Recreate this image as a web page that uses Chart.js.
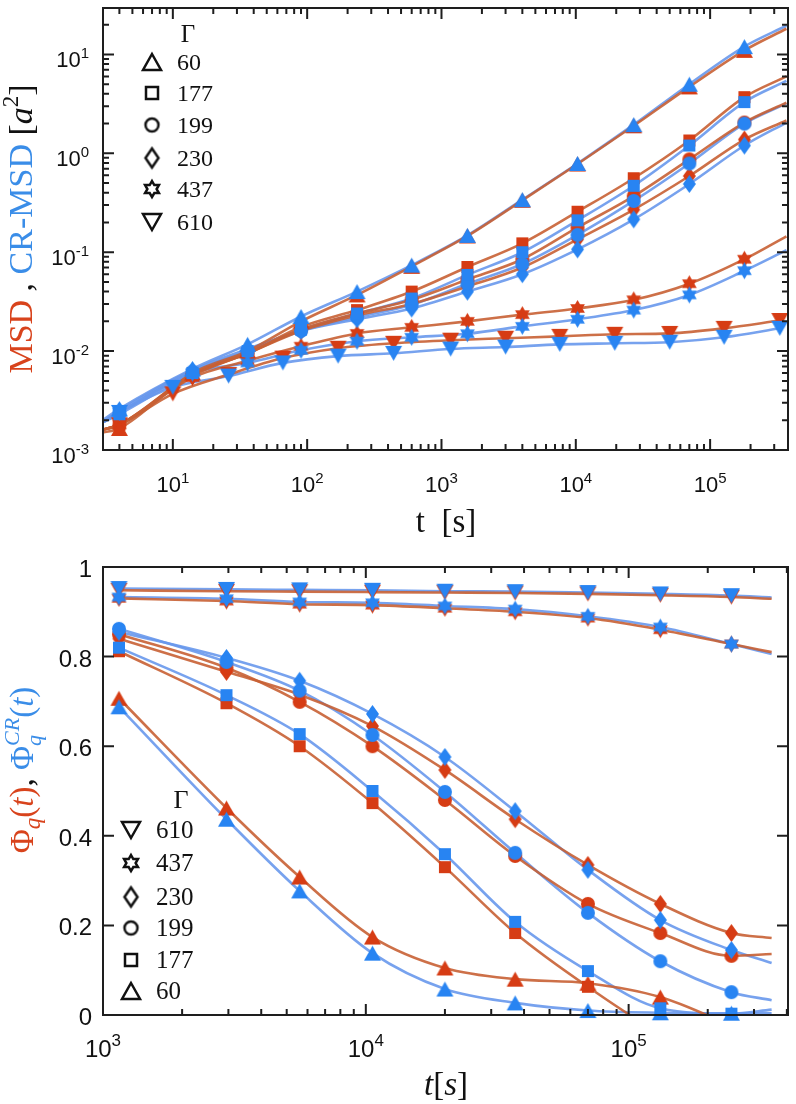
<!DOCTYPE html>
<html>
<head>
<meta charset="utf-8">
<script src="https://cdn.jsdelivr.net/npm/chart.js@4.4.0/dist/chart.umd.min.js"></script>
<style>
  body { margin: 0; background: #fff; }
  #wrap { position: relative; width: 796px; height: 1104px; }
  canvas { position: absolute; left: 0; }
  #msdChart { top: 0; }
  #phiChart { top: 552px; }
</style>
</head>
<body>
<div id="wrap">
  <canvas id="msdChart" width="796" height="552"></canvas>
  <canvas id="phiChart" width="796" height="552"></canvas>
</div>
<script>
// ---------- data ----------
const gammas = ['60', '177', '199', '230', '437', '610'];
const shapes = ['triangle', 'square', 'circle', 'diamond', 'star', 'triangleDown'];

// top panel: MSD (red) and CR-MSD (blue); first/last times are line ends only
const tMsd = [3, 4, 14, 36, 90, 235, 600, 1560, 4000, 10300, 27000, 70000, 180000, 370000];
const tMsd610 = [3, 4, 10, 26, 66, 170, 440, 1170, 3000, 7600, 19500, 50000, 127000, 330000];

const msd60 = [1.5e-3, 1.65e-3, 6.0e-3, 0.0100, 0.0200, 0.037, 0.072, 0.146, 0.335, 0.78, 1.9, 4.7, 11.0, 18.2];
const cr60 = [2.0e-3, 2.6e-3, 6.6e-3, 0.0117, 0.0224, 0.040, 0.074, 0.148, 0.34, 0.79, 1.95, 5.0, 12.0, 19.5];
const msd177 = [1.6e-3, 1.8e-3, 5.8e-3, 0.0095, 0.0175, 0.026, 0.040, 0.071, 0.123, 0.257, 0.56, 1.35, 3.7, 6.0];
const cr177 = [1.9e-3, 2.3e-3, 6.0e-3, 0.0100, 0.0165, 0.024, 0.034, 0.059, 0.100, 0.21, 0.47, 1.2, 3.3, 5.4];
const msd199 = [1.6e-3, 1.8e-3, 5.8e-3, 0.0095, 0.0165, 0.024, 0.033, 0.053, 0.085, 0.178, 0.37, 0.87, 2.05, 3.25];
const cr199 = [1.9e-3, 2.4e-3, 6.2e-3, 0.0100, 0.0160, 0.022, 0.0295, 0.048, 0.076, 0.150, 0.33, 0.79, 2.0, 3.2];
const msd230 = [1.6e-3, 1.8e-3, 5.6e-3, 0.0095, 0.0160, 0.023, 0.030, 0.045, 0.070, 0.135, 0.27, 0.59, 1.38, 2.15];
const cr230 = [1.9e-3, 2.5e-3, 6.4e-3, 0.0105, 0.0160, 0.021, 0.027, 0.040, 0.060, 0.107, 0.215, 0.49, 1.2, 2.05];
const msd437 = [1.6e-3, 1.8e-3, 5.4e-3, 0.0080, 0.0112, 0.0151, 0.0174, 0.020, 0.0234, 0.027, 0.033, 0.048, 0.085, 0.145];
const cr437 = [1.9e-3, 2.4e-3, 6.0e-3, 0.0076, 0.0102, 0.0126, 0.0138, 0.015, 0.0178, 0.021, 0.026, 0.037, 0.065, 0.105];
const msd610 = [1.6e-3, 1.8e-3, 3.7e-3, 5.8e-3, 0.0085, 0.0107, 0.0120, 0.0129, 0.0135, 0.0141, 0.0148, 0.0151, 0.0170, 0.0204];
const cr610 = [1.9e-3, 2.4e-3, 4.3e-3, 5.6e-3, 0.0076, 0.0089, 0.0095, 0.0105, 0.0110, 0.0117, 0.0120, 0.0123, 0.0138, 0.0170];

// bottom panel: Phi_q (red) and Phi_q^CR (blue); last time is line end only
const tPhi = [1150, 2950, 5600, 10600, 20000, 37000, 70000, 132000, 246000, 350000];

const phi60 = [0.707, 0.462, 0.308, 0.174, 0.105, 0.080, 0.071, 0.040, -0.025, -0.07];
const phiCr60 = [0.688, 0.437, 0.277, 0.138, 0.058, 0.027, 0.010, 0.005, 0.004, 0.004];
const phi177 = [0.812, 0.696, 0.600, 0.473, 0.330, 0.183, 0.063, -0.04, -0.10, -0.13];
const phiCr177 = [0.820, 0.714, 0.627, 0.500, 0.359, 0.208, 0.098, 0.015, 0.003, 0.012];
const phi199 = [0.850, 0.775, 0.699, 0.600, 0.480, 0.355, 0.248, 0.183, 0.132, 0.136];
const phiCr199 = [0.862, 0.788, 0.724, 0.625, 0.498, 0.362, 0.228, 0.120, 0.051, 0.033];
const phi230 = [0.840, 0.766, 0.715, 0.645, 0.547, 0.437, 0.335, 0.248, 0.183, 0.172];
const phiCr230 = [0.855, 0.797, 0.746, 0.672, 0.576, 0.455, 0.324, 0.212, 0.145, 0.116];
const phi437 = [0.930, 0.924, 0.917, 0.915, 0.908, 0.900, 0.886, 0.860, 0.828, 0.810];
const phiCr437 = [0.933, 0.929, 0.922, 0.920, 0.913, 0.906, 0.890, 0.866, 0.828, 0.806];
const phi610 = [0.948, 0.946, 0.945, 0.944, 0.943, 0.942, 0.940, 0.937, 0.933, 0.929];
const phiCr610 = [0.952, 0.950, 0.949, 0.948, 0.946, 0.945, 0.943, 0.940, 0.936, 0.932];

// tick labels
const msdXTickExp = [1, 2, 3, 4, 5];
const msdYTickExp = [-3, -2, -1, 0, 1];
const phiXTickExp = [3, 4, 5];
const phiYTicks = [0, 0.2, 0.4, 0.6, 0.8, 1];
const phiYLabels = ['0', '0.2', '0.4', '0.6', '0.8', '1'];

// ---------- styles ----------
const RED_LINE = 'rgba(200, 96, 52, 0.9)';
const BLUE_LINE = 'rgba(104, 152, 236, 0.9)';
const RED_MARK = '#d63c14';
const BLUE_MARK = '#2884f2';
const RED_TXT = '#d8431c';
const BLUE_TXT = '#3a8de8';
const SANS = "'Liberation Sans', Arial, sans-serif";
const SERIF = "'Liberation Serif', 'DejaVu Serif', serif";

const markSize = {
  triangle: [17, 15], triangleDown: [17, 15], square: [12, 12],
  circle: [14, 14], diamond: [13, 18], star: [17, 17]
};
const legendSize = {
  triangle: [18, 16], triangleDown: [18, 16], square: [12, 12],
  circle: [13, 13], diamond: [13, 19], star: [16, 16]
};

function shapePath(g, shape, w, h) {
  g.beginPath();
  if (shape === 'triangle') {
    g.moveTo(0, -h / 2); g.lineTo(w / 2, h / 2); g.lineTo(-w / 2, h / 2);
  } else if (shape === 'triangleDown') {
    g.moveTo(0, h / 2); g.lineTo(w / 2, -h / 2); g.lineTo(-w / 2, -h / 2);
  } else if (shape === 'square') {
    g.rect(-w / 2, -h / 2, w, h);
  } else if (shape === 'circle') {
    g.arc(0, 0, w / 2, 0, 2 * Math.PI);
  } else if (shape === 'diamond') {
    g.moveTo(0, -h / 2); g.lineTo(w / 2, 0); g.lineTo(0, h / 2); g.lineTo(-w / 2, 0);
  } else if (shape === 'star') {
    const R = w / 2;
    for (let k = 0; k < 12; k++) {
      const a = -Math.PI / 2 + k * Math.PI / 6;
      const r = k % 2 === 0 ? R : R / Math.sqrt(3);
      g.lineTo(r * Math.cos(a), r * Math.sin(a));
    }
  }
  g.closePath();
}

function makeMarker(shape, color, filled) {
  const [w, h] = (filled ? markSize : legendSize)[shape];
  const c = document.createElement('canvas');
  c.width = w + 6; c.height = h + 6;
  const g = c.getContext('2d');
  g.translate(c.width / 2, c.height / 2);
  shapePath(g, shape, w, h);
  if (filled) { g.fillStyle = color; g.fill(); }
  else { g.lineWidth = 2.5; g.strokeStyle = color; g.lineJoin = 'miter'; g.stroke(); }
  return c;
}

const pts = (ts, ys) => ts.map((t, i) => ({ x: t, y: ys[i] }));

function buildSets(series) {
  const sets = [];
  series.forEach(s => {
    sets.push({ data: pts(s.t, s.blue), borderColor: BLUE_LINE, order: 4 });
    sets.push({ data: pts(s.t, s.red), borderColor: RED_LINE, order: 3 });
  });
  sets.forEach(d => Object.assign(d, {
    showLine: true, borderWidth: 2.6, pointRadius: 0, fill: false,
    cubicInterpolationMode: 'monotone'
  }));
  series.forEach(s => {
    const redMk = makeMarker(s.shape, RED_MARK, true);
    const blueMk = makeMarker(s.shape, BLUE_MARK, true);
    sets.push({ data: pts(s.t, s.red).slice(s.from, s.to), pointStyle: redMk,
      pointRadius: 7, showLine: false, clip: false, order: 2 });
    sets.push({ data: pts(s.t, s.blue).slice(s.from, s.to), pointStyle: blueMk,
      pointRadius: 7, showLine: false, clip: false, order: 1 });
  });
  return sets;
}

const msdSeries = [
  { shape: 'triangle', t: tMsd, red: msd60, blue: cr60, from: 1, to: 13 },
  { shape: 'square', t: tMsd, red: msd177, blue: cr177, from: 1, to: 13 },
  { shape: 'circle', t: tMsd, red: msd199, blue: cr199, from: 1, to: 13 },
  { shape: 'diamond', t: tMsd, red: msd230, blue: cr230, from: 1, to: 13 },
  { shape: 'star', t: tMsd, red: msd437, blue: cr437, from: 1, to: 13 },
  { shape: 'triangleDown', t: tMsd610, red: msd610, blue: cr610, from: 1, to: 14 }
];
const phiSeries = [
  { shape: 'triangle', t: tPhi, red: phi60, blue: phiCr60, from: 0, to: 9 },
  { shape: 'square', t: tPhi, red: phi177, blue: phiCr177, from: 0, to: 9 },
  { shape: 'circle', t: tPhi, red: phi199, blue: phiCr199, from: 0, to: 9 },
  { shape: 'diamond', t: tPhi, red: phi230, blue: phiCr230, from: 0, to: 9 },
  { shape: 'star', t: tPhi, red: phi437, blue: phiCr437, from: 0, to: 9 },
  { shape: 'triangleDown', t: tPhi, red: phi610, blue: phiCr610, from: 0, to: 9 }
];

// ---------- drawing helpers ----------
function drawRich(ctx, segs, x, y, align, rotate) {
  ctx.save();
  ctx.translate(x, y);
  if (rotate) ctx.rotate(-Math.PI / 2);
  ctx.textBaseline = 'alphabetic';
  ctx.textAlign = 'left';
  const widthOf = s => {
    if (s.stack) return Math.max(...s.stack.map(widthOf));
    ctx.font = s.font; return ctx.measureText(s.text).width;
  };
  const total = segs.reduce((w, s) => w + widthOf(s), 0);
  let cx = align === 'center' ? -total / 2 : align === 'right' ? -total : 0;
  const put = s => { ctx.font = s.font; ctx.fillStyle = s.color || '#111'; ctx.fillText(s.text, cx, s.dy || 0); };
  segs.forEach(s => {
    const w = widthOf(s);
    if (s.stack) s.stack.forEach(put); else put(s);
    cx += w;
  });
  ctx.restore();
}

const pow10 = (n, base, sup, dy) => [
  { text: '10', font: `${base}px ${SANS}` },
  { text: String(n), font: `${sup}px ${SANS}`, dy: dy }
];

function logTicks(min, max) {
  const out = [];
  for (let d = Math.floor(Math.log10(min)); d <= Math.ceil(Math.log10(max)); d++) {
    for (let k = 1; k < 10; k++) {
      const v = k * Math.pow(10, d);
      if (v >= min * (1 - 1e-9) && v <= max * (1 + 1e-9)) out.push({ v, major: k === 1 });
    }
  }
  return out;
}

function drawFrame(chart, xTicks, yTicks) {
  const { ctx, chartArea: a } = chart;
  const sx = chart.scales.x, sy = chart.scales.y;
  ctx.save();
  ctx.strokeStyle = '#1e1e1e';
  ctx.lineWidth = 2;
  ctx.beginPath();
  xTicks.forEach(t => {
    const p = sx.getPixelForValue(t.v), L = t.major ? 11 : 6;
    ctx.moveTo(p, a.bottom); ctx.lineTo(p, a.bottom - L);
    ctx.moveTo(p, a.top); ctx.lineTo(p, a.top + L);
  });
  yTicks.forEach(t => {
    const p = sy.getPixelForValue(t.v), L = t.major ? 11 : 6;
    ctx.moveTo(a.left, p); ctx.lineTo(a.left + L, p);
    ctx.moveTo(a.right, p); ctx.lineTo(a.right - L, p);
  });
  ctx.stroke();
  ctx.strokeRect(a.left, a.top, a.right - a.left, a.bottom - a.top);
  ctx.restore();
}

function drawLegend(ctx, order, gx, gy, mx, tx, rows, size) {
  ctx.save();
  ctx.fillStyle = '#111';
  ctx.font = `${size + 1}px ${SERIF}`;
  ctx.textAlign = 'center';
  ctx.fillText('\u0393', gx, gy);
  ctx.textAlign = 'left';
  ctx.font = `${size}px ${SERIF}`;
  order.forEach((i, r) => {
    const mk = makeMarker(shapes[i], '#111', false);
    ctx.drawImage(mk, mx - mk.width / 2, rows[r] - mk.height / 2);
    ctx.fillText(gammas[i], tx, rows[r] + 8);
  });
  ctx.restore();
}

// ---------- top chart ----------
const msdDeco = {
  id: 'msdDeco',
  afterDraw(chart) {
    const { ctx } = chart;
    const sx = chart.scales.x, sy = chart.scales.y;
    drawFrame(chart, logTicks(sx.min, sx.max), logTicks(sy.min, sy.max));
    msdXTickExp.forEach(n => drawRich(ctx, pow10(n, 22, 15, -9), sx.getPixelForValue(Math.pow(10, n)), 492, 'center'));
    msdYTickExp.forEach(n => drawRich(ctx, pow10(n, 22, 15, -9), 89, sy.getPixelForValue(Math.pow(10, n)) + 13, 'right'));
    drawRich(ctx, [{ text: 't  [s]', font: `33px ${SERIF}` }], 446, 532, 'center');
    drawRich(ctx, [
      { text: 'MSD', font: `34px ${SERIF}`, color: RED_TXT },
      { text: ' , ', font: `34px ${SERIF}` },
      { text: 'CR-MSD', font: `34px ${SERIF}`, color: BLUE_TXT },
      { text: ' [', font: `34px ${SERIF}` },
      { text: 'a', font: `italic 34px ${SERIF}` },
      { text: '2', font: `23px ${SERIF}`, dy: -14 },
      { text: ']', font: `34px ${SERIF}` }
    ], 32, 229, 'center', true);
    drawLegend(ctx, [0, 1, 2, 3, 4, 5], 188, 42, 152, 177, [62, 93, 125, 158, 189, 222], 24);
  }
};

new Chart(document.getElementById('msdChart'), {
  type: 'scatter',
  data: { datasets: buildSets(msdSeries) },
  options: {
    responsive: false,
    animation: false,
    events: [],
    layout: { padding: { top: 3, right: 6, left: 0, bottom: 0 } },
    plugins: { legend: { display: false }, tooltip: { enabled: false } },
    scales: {
      x: {
        type: 'logarithmic', min: 3.02, max: 3.8e5,
        grid: { display: false }, border: { display: false }, ticks: { display: false },
        afterFit: s => { s.height = 102; }
      },
      y: {
        type: 'logarithmic', min: 1e-3, max: 29.5,
        grid: { display: false }, border: { display: false }, ticks: { display: false },
        afterFit: s => { s.width = 103; }
      }
    }
  },
  plugins: [msdDeco]
});

// ---------- bottom chart ----------
const phiDeco = {
  id: 'phiDeco',
  afterDraw(chart) {
    const { ctx } = chart;
    const sx = chart.scales.x, sy = chart.scales.y;
    drawFrame(chart, logTicks(sx.min, sx.max), phiYTicks.map(v => ({ v, major: true })));
    phiXTickExp.forEach(n => drawRich(ctx, pow10(n, 24, 17, -11), sx.getPixelForValue(Math.pow(10, n)), 505, 'center'));
    phiYTicks.forEach((v, i) => drawRich(ctx, [{ text: phiYLabels[i], font: `24px ${SANS}` }], 92, sy.getPixelForValue(v) + 10, 'right'));
    drawRich(ctx, [
      { text: 't', font: `italic 33px ${SERIF}` },
      { text: '[', font: `33px ${SERIF}` },
      { text: 's', font: `italic 33px ${SERIF}` },
      { text: ']', font: `33px ${SERIF}` }
    ], 446, 543, 'center');
    drawRich(ctx, [
      { text: '\u03A6', font: `33px ${SERIF}`, color: RED_TXT },
      { text: 'q', font: `italic 23px ${SERIF}`, color: RED_TXT, dy: 7 },
      { text: '(', font: `33px ${SERIF}`, color: RED_TXT },
      { text: 't', font: `italic 33px ${SERIF}`, color: RED_TXT },
      { text: ')', font: `33px ${SERIF}`, color: RED_TXT },
      { text: ', ', font: `33px ${SERIF}` },
      { text: '\u03A6', font: `33px ${SERIF}`, color: BLUE_TXT },
      { stack: [
        { text: 'CR', font: `italic 22px ${SERIF}`, color: BLUE_TXT, dy: -14 },
        { text: 'q', font: `italic 22px ${SERIF}`, color: BLUE_TXT, dy: 8 }
      ] },
      { text: '(', font: `33px ${SERIF}`, color: BLUE_TXT },
      { text: 't', font: `italic 33px ${SERIF}`, color: BLUE_TXT },
      { text: ')', font: `33px ${SERIF}`, color: BLUE_TXT }
    ], 33, 218, 'center', true);
    drawLegend(ctx, [5, 4, 3, 2, 1, 0], 181, 256, 131, 156, [278, 311, 345, 376, 408, 439], 25);
  }
};

new Chart(document.getElementById('phiChart'), {
  type: 'scatter',
  data: { datasets: buildSets(phiSeries) },
  options: {
    responsive: false,
    animation: false,
    events: [],
    layout: { padding: { top: 15, right: 4, left: 0, bottom: 0 } },
    plugins: { legend: { display: false }, tooltip: { enabled: false } },
    scales: {
      x: {
        type: 'logarithmic', min: 1000, max: 4.04e5,
        grid: { display: false }, border: { display: false }, ticks: { display: false },
        afterFit: s => { s.height = 89; }
      },
      y: {
        type: 'linear', min: 0, max: 1,
        grid: { display: false }, border: { display: false }, ticks: { display: false },
        afterFit: s => { s.width = 103; }
      }
    }
  },
  plugins: [phiDeco]
});
</script>
</body>
</html>
